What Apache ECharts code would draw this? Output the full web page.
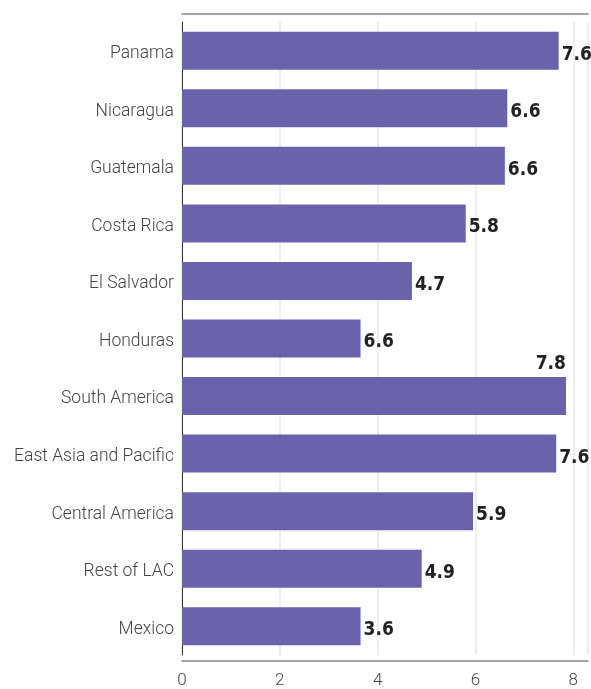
<!DOCTYPE html>
<html>
<head>
<meta charset="utf-8">
<script src="https://cdn.jsdelivr.net/npm/echarts@6/dist/echarts.min.js"></script>
<style>
  html, body { margin: 0; padding: 0; background: #fff; }
  #main { width: 591px; height: 689px; }
</style>
</head>
<body>
<div id="main"></div>
<script>
// categories, top to bottom
const categories = ['Panama', 'Nicaragua', 'Guatemala', 'Costa Rica', 'El Salvador', 'Honduras',
  'South America', 'East Asia and Pacific', 'Central America', 'Rest of LAC', 'Mexico'];
// bar lengths as drawn
const barValues = [7.7, 6.65, 6.6, 5.8, 4.7, 3.65, 7.85, 7.65, 5.95, 4.9, 3.65];
// labels as printed on the chart
const labelTexts = ['7.6', '6.6', '6.6', '5.8', '4.7', '6.6', '7.8', '7.6', '5.9', '4.9', '3.6'];
const xTicks = [0, 2, 4, 6, 8];

const chart = echarts.init(document.getElementById('main'));

const seriesData = barValues.map((v, i) => {
  const item = { value: v, label: { formatter: labelTexts[i] } };
  if (categories[i] === 'South America') {
    // this label sits above the bar end
    item.label.position = ['100%', -3];
    item.label.align = 'right';
    item.label.verticalAlign = 'bottom';
    item.label.offset = [0, 0];
  }
  return item;
});

chart.setOption({
  animation: false,
  grid: { left: 182, right: 0, top: 22, bottom: 32 },
  xAxis: [{
    type: 'value',
    min: 0,
    max: 8.3,
    interval: 2,
    offset: 6,
    axisLine: { show: true, lineStyle: { color: '#888', width: 1.5 } },
    axisTick: { show: false },
    axisLabel: {
      margin: 11,
      color: '#444',
      fontFamily: 'Roboto',
      fontWeight: 300,
      fontSize: 17,
      showMaxLabel: true,
      formatter: v => (xTicks.indexOf(v) >= 0 ? String(v) : '')
    },
    splitLine: { show: true, lineStyle: { color: '#e8e8e8', width: 1.5 } }
  }, {
    type: 'value',
    position: 'top',
    min: 0,
    max: 8.3,
    interval: 2,
    offset: 8,
    axisLine: { show: true, lineStyle: { color: '#888', width: 1.5 } },
    axisTick: { show: false },
    axisLabel: { show: false },
    splitLine: { show: false }
  }],
  yAxis: {
    type: 'category',
    inverse: true,
    data: categories,
    axisLine: { show: true, lineStyle: { color: '#333', width: 1 } },
    axisTick: { show: false },
    axisLabel: {
      margin: 8,
      formatter: v => '{c|' + v + '}',
      rich: {
        c: {
          color: '#444',
          fontFamily: 'Roboto',
          fontWeight: 300,
          fontSize: 17.5,
          padding: [6, 0, 0, 0]
        }
      }
    }
  },
  series: [{
    type: 'bar',
    data: seriesData,
    barCategoryGap: '34%',
    itemStyle: { color: '#6a63ab' },
    label: {
      show: true,
      position: 'right',
      distance: 3,
      offset: [0, 4],
      color: '#222',
      fontFamily: 'DejaVu Sans Condensed',
      fontWeight: 'bold',
      fontSize: 19
    }
  }]
});
</script>
</body>
</html>
